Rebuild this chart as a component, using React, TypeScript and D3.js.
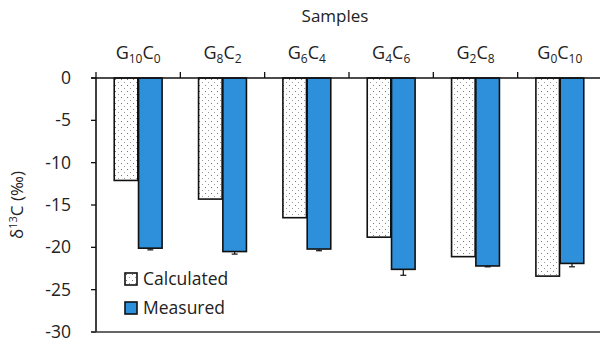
import React from "react";
import * as d3 from "d3";

const samples = ["G10C0", "G8C2", "G6C4", "G4C6", "G2C8", "G0C10"];
const sampleParts = [
  ["10", "0"],
  ["8", "2"],
  ["6", "4"],
  ["4", "6"],
  ["2", "8"],
  ["0", "10"],
];
const calculated = [-12.1, -14.3, -16.5, -18.8, -21.1, -23.4];
const measured = [-20.1, -20.5, -20.2, -22.6, -22.2, -21.9];
const measuredErr = [0.2, 0.3, 0.2, 0.7, 0.1, 0.4];
const yTicks = [0, -5, -10, -15, -20, -25, -30];
const seriesNames = ["Calculated", "Measured"];

const width = 600;
const height = 344;
const left = 96;
const right = 602;
const top = 78;
const bottom = 332;
const blue = "#2E90DA";
const font = "'Open Sans', 'Noto Sans', sans-serif";

export default function App() {
  const x = d3.scaleBand().domain(samples).range([left, right]);
  const inner = d3
    .scaleBand()
    .domain(seriesNames)
    .range([0, x.bandwidth()])
    .paddingInner(0.03)
    .paddingOuter(0.75);
  const y = d3.scaleLinear().domain([0, -30]).range([top, bottom]);

  return (
    <svg
      width={width}
      height={height}
      style={{ position: "absolute", left: 0, top: 0, background: "#fff" }}
      fontFamily={font}
    >
      <defs>
        <pattern id="dots" width="6" height="6" patternUnits="userSpaceOnUse">
          <rect width="6" height="6" fill="#fff" />
          <rect x="1" y="1" width="1" height="1" fill="#777" />
          <rect x="4" y="4" width="1" height="1" fill="#999" />
        </pattern>
      </defs>

      {/* title */}
      <text x={335} y={22} textAnchor="middle" fontSize={17} fill="#222">
        Samples
      </text>

      {/* category labels */}
      {samples.map((s, i) => (
        <text
          key={s}
          x={x(s)! + x.bandwidth() / 2}
          y={59}
          textAnchor="middle"
          fontSize={18}
          fill="#222"
        >
          G<tspan fontSize={12} dy={4}>{sampleParts[i][0]}</tspan>
          <tspan dy={-4}>C</tspan>
          <tspan fontSize={12} dy={4}>{sampleParts[i][1]}</tspan>
        </text>
      ))}

      {/* bars */}
      {samples.map((s, i) => {
        const bx = x(s)!;
        const cx = bx + inner("Calculated")!;
        const mx = bx + inner("Measured")!;
        const w = inner.bandwidth();
        const errY = y(measured[i] - measuredErr[i]);
        return (
          <g key={s}>
            <rect
              x={cx}
              y={y(0)}
              width={w}
              height={y(calculated[i]) - y(0)}
              fill="url(#dots)"
              stroke="#111"
              strokeWidth={1.6}
            />
            <rect
              x={mx}
              y={y(0)}
              width={w}
              height={y(measured[i]) - y(0)}
              fill={blue}
              stroke="#111"
              strokeWidth={1.6}
            />
            <line
              x1={mx + w / 2}
              x2={mx + w / 2}
              y1={y(measured[i])}
              y2={errY}
              stroke="#111"
              strokeWidth={1.2}
            />
            <line
              x1={mx + w / 2 - 3}
              x2={mx + w / 2 + 3}
              y1={errY}
              y2={errY}
              stroke="#111"
              strokeWidth={1.2}
            />
          </g>
        );
      })}

      {/* y axis */}
      <line x1={left} x2={left} y1={top} y2={bottom} stroke="#111" strokeWidth={1.6} />
      {yTicks.map((t) => (
        <g key={t}>
          <line x1={left - 5} x2={left} y1={y(t)} y2={y(t)} stroke="#111" strokeWidth={1.3} />
          <text x={71} y={y(t) + 6} textAnchor="end" fontSize={17.5} fill="#222">
            {t}
          </text>
        </g>
      ))}

      {/* top (zero) axis with category ticks */}
      <line x1={left - 5} x2={width} y1={y(0)} y2={y(0)} stroke="#111" strokeWidth={1.6} />
      {samples.map((s) => (
        <line
          key={s}
          x1={x(s)!}
          x2={x(s)!}
          y1={y(0) - 6}
          y2={y(0)}
          stroke="#111"
          strokeWidth={1.3}
        />
      ))}
      {/* bottom line */}
      <line x1={left - 5} x2={width} y1={y(-30)} y2={y(-30)} stroke="#333" strokeWidth={1.6} />

      {/* y label */}
      <text
        transform={`translate(23,205) rotate(-90)`}
        textAnchor="middle"
        fontSize={17}
        fill="#222"
      >
        δ<tspan fontSize={11} dy={-6}>13</tspan>
        <tspan dy={6}>C (‰)</tspan>
      </text>

      {/* legend */}
      {seriesNames.map((n, i) => (
        <g key={n} transform={`translate(125,${273 + i * 29})`}>
          <rect
            width={12}
            height={12}
            fill={i === 0 ? "url(#dots)" : blue}
            stroke="#111"
            strokeWidth={1.6}
          />
          <text x={18} y={12} fontSize={17.5} fill="#222">
            {n}
          </text>
        </g>
      ))}
    </svg>
  );
}
